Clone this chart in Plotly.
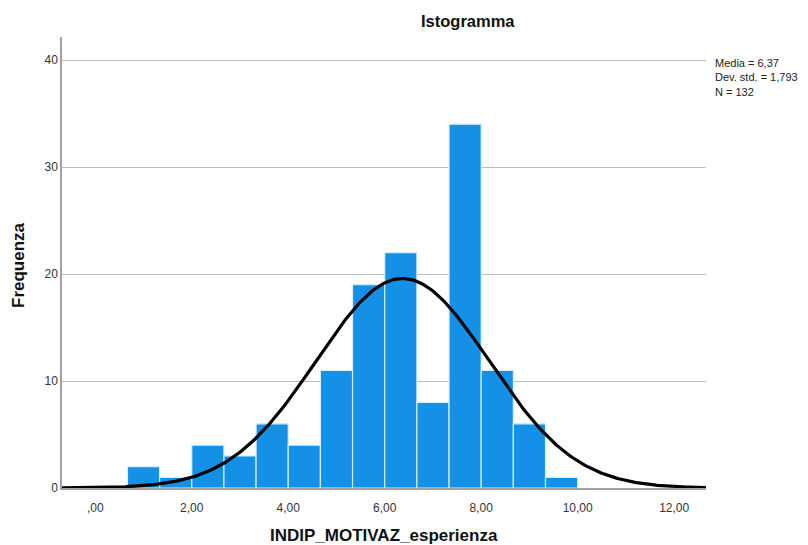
import numpy as np
import plotly.graph_objects as go

# Histogram of INDIP_MOTIVAZ_esperienza (bins of width 2/3)
bin_left = [2/3 * k for k in range(1, 15)]
counts = [2, 1, 4, 3, 6, 4, 11, 19, 22, 8, 34, 11, 6, 1]
bin_width = 2/3

mean_val = 6.37
std_val = 1.793
n_obs = 132

x_ticks = [0, 2, 4, 6, 8, 10, 12]
x_tick_text = [",00", "2,00", "4,00", "6,00", "8,00", "10,00", "12,00"]
y_ticks = [0, 10, 20, 30, 40]

x_range = [-0.69, 12.66]
centers = [b + bin_width / 2 for b in bin_left]

# Fitted normal curve scaled to counts
xs = np.linspace(x_range[0], x_range[1], 400)
ys = n_obs * bin_width / (std_val * np.sqrt(2 * np.pi)) * np.exp(-0.5 * ((xs - mean_val) / std_val) ** 2)

fig = go.Figure()
fig.add_trace(go.Bar(
    x=centers, y=counts, width=bin_width,
    marker=dict(color="#1490e6", line=dict(color="#d8ecfb", width=1.2)),
    hoverinfo="x+y",
))
fig.add_trace(go.Scatter(
    x=xs, y=ys, mode="lines",
    line=dict(color="black", width=3.2),
    hoverinfo="skip", cliponaxis=False,
))

fig.update_layout(
    width=808, height=545,
    margin=dict(l=62, r=102, t=37, b=57),
    paper_bgcolor="white", plot_bgcolor="white",
    showlegend=False,
    font=dict(family="Liberation Sans, Arial, sans-serif", color="#222"),
    xaxis=dict(
        range=x_range,
        tickvals=x_ticks, ticktext=x_tick_text,
        showgrid=False, zeroline=False,
        showline=True, linecolor="#a0a0a0", linewidth=1.5,
        ticks="", tickfont=dict(size=12, color="#333"),
        ticklabelstandoff=8,
    ),
    yaxis=dict(
        range=[0, 42.15],
        tickvals=y_ticks,
        showgrid=True, gridcolor="#bdbdbd", gridwidth=1,
        zeroline=False,
        showline=True, linecolor="#a0a0a0", linewidth=1.5,
        ticks="", tickfont=dict(size=12, color="#333"),
    ),
    annotations=[
        dict(text="<b>Istogramma</b>", xref="paper", yref="paper",
             x=(468 - 62) / 644, y=1, yshift=16, xanchor="center", yanchor="middle",
             showarrow=False, font=dict(size=16.5, color="#111")),
        dict(text="<b>INDIP_MOTIVAZ_esperienza</b>", xref="paper", yref="paper",
             x=(384 - 62) / 644, y=0, yshift=-47, xanchor="center", yanchor="middle",
             showarrow=False, font=dict(size=17, color="#111")),
        dict(text="<b>Frequenza</b>", xref="paper", yref="paper",
             x=0, xshift=-44, y=(488 - 265) / 451, textangle=-90,
             xanchor="center", yanchor="middle",
             showarrow=False, font=dict(size=17, color="#111")),
        dict(text="Media = 6,37<br>Dev. std. = 1,793<br>N = 132",
             xref="paper", yref="paper", x=1, xshift=7, y=(488 - 55) / 451,
             xanchor="left", yanchor="top", align="left",
             showarrow=False, font=dict(size=11, color="#222")),
    ],
)

fig.write_html("out.html")
